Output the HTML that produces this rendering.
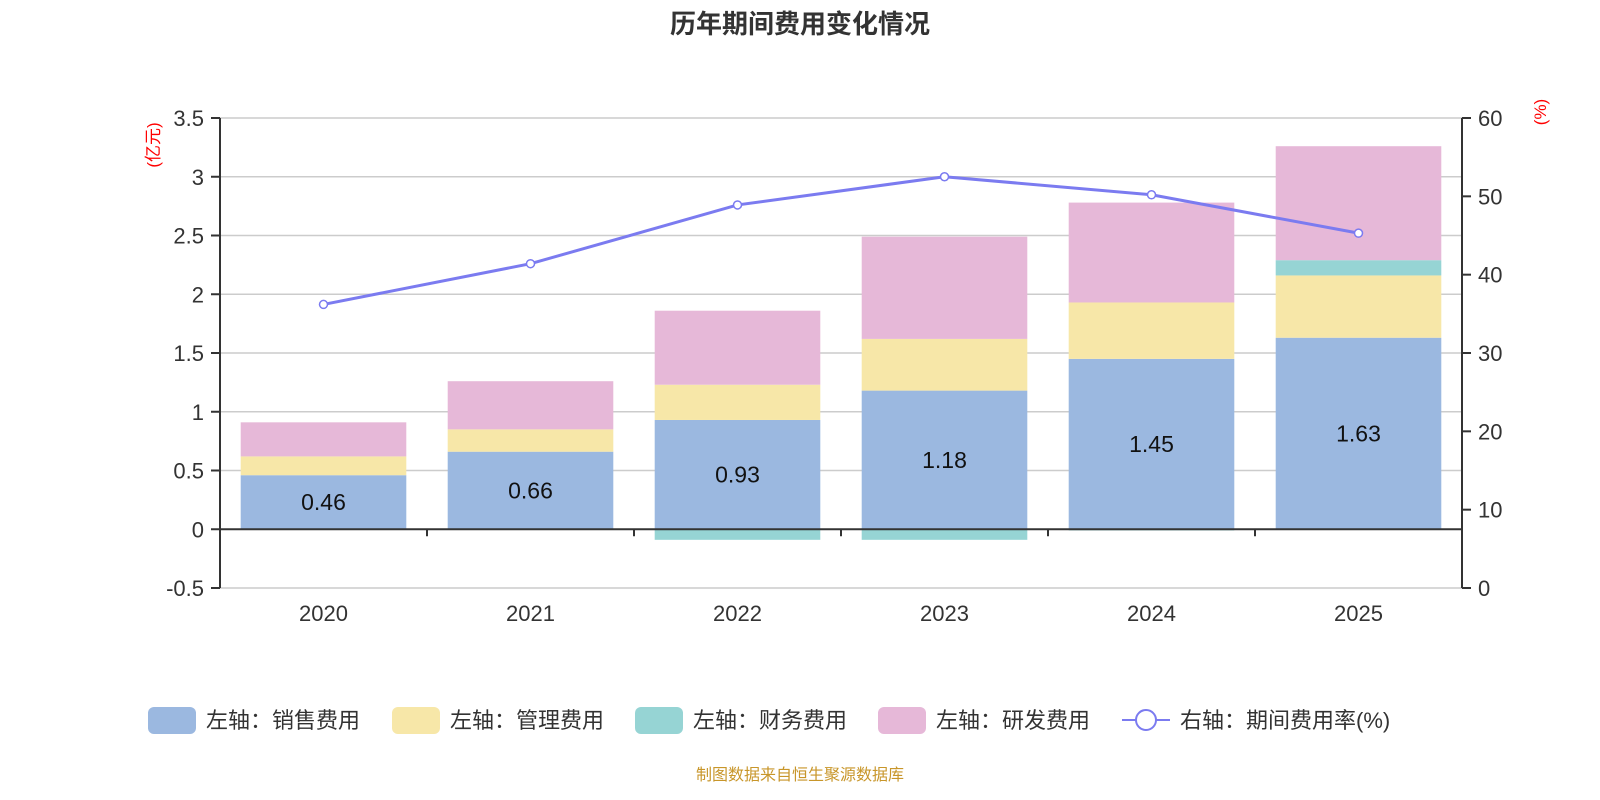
<!DOCTYPE html>
<html><head><meta charset="utf-8"><style>
html,body{margin:0;padding:0;background:#fff;}
svg{display:block;font-family:"Liberation Sans","Noto Sans CJK SC",sans-serif;}
</style></head><body>
<svg id="chart" width="1600" height="800" xmlns="http://www.w3.org/2000/svg">
<text x="800" y="33" text-anchor="middle" font-size="26" font-weight="bold" fill="#333">历年期间费用变化情况</text>
<g id="grid"></g><g id="bars"></g><g id="axes"></g><g id="line"></g><g id="labels"></g>
<text transform="translate(159,145) rotate(-90)" text-anchor="middle" font-size="17" fill="#f00">(亿元)</text>
<text transform="translate(1546,112) rotate(-90)" text-anchor="middle" font-size="17" fill="#f00">(%)</text>
<g id="legend"></g>
<text x="800" y="780" text-anchor="middle" font-size="16" fill="#c8962a">制图数据来自恒生聚源数据库</text>
</svg>
<script>
const categories=['2020','2021','2022','2023','2024','2025'];
const sales=[0.46,0.66,0.93,1.18,1.45,1.63];
const mgmt=[0.16,0.19,0.30,0.44,0.48,0.53];
const finance=[0,0,-0.09,-0.09,-0.01,0.13];
const rnd=[0.29,0.41,0.63,0.87,0.85,0.97];
const rate=[36.2,41.4,48.9,52.5,50.2,45.3];
const leftTicks=[-0.5,0,0.5,1,1.5,2,2.5,3,3.5];
const rightTicks=[0,10,20,30,40,50,60];
const NS='http://www.w3.org/2000/svg';
const X0=220,X1=1462,YT=118,YB=588;
const band=(X1-X0)/categories.length;
const xc=i=>X0+band*(i+0.5);
const yl=v=>YB-(v+0.5)/4*(YB-YT);
const yr=v=>YB-v/60*(YB-YT);
function mk(p,tag,at){const e=document.createElementNS(NS,tag);for(const k in at)e.setAttribute(k,at[k]);document.getElementById(p).appendChild(e);return e;}
leftTicks.forEach(t=>{
 const g=mk('grid','line',{x1:X0,x2:X1,y1:yl(t),y2:yl(t),stroke:'#ccc','stroke-width':1.5});
 
 
 mk('axes','line',{x1:X0-9,x2:X0,y1:yl(t),y2:yl(t),stroke:'#333','stroke-width':2});
 const tx=mk('axes','text',{x:X0-16,y:yl(t)+8,'text-anchor':'end','font-size':22,fill:'#333'});
 tx.textContent=t;
 
 
});
rightTicks.forEach(t=>{
 mk('axes','line',{x1:X1,x2:X1+9,y1:yr(t),y2:yr(t),stroke:'#333','stroke-width':2});
 const tx=mk('axes','text',{x:X1+16,y:yr(t)+8,'font-size':22,fill:'#333'});
 tx.textContent=t;
 
 
});
mk('axes','line',{x1:X0,x2:X0,y1:YT,y2:YB,stroke:'#333','stroke-width':2});
mk('axes','line',{x1:X1,x2:X1,y1:YT,y2:YB,stroke:'#333','stroke-width':2});
mk('axes','line',{x1:X0,x2:X1,y1:yl(0),y2:yl(0),stroke:'#333','stroke-width':2});
for(let i=1;i<categories.length;i++)mk('axes','line',{x1:X0+band*i,x2:X0+band*i,y1:yl(0),y2:yl(0)+7,stroke:'#333','stroke-width':2});
const series=[[sales,'#9bb8e0','bar-sales'],[mgmt,'#f7e7a8','bar-mgmt'],[finance,'#96d4d4','bar-finance'],[rnd,'#e6b8d8','bar-rnd']];
const bw=band*0.8;
categories.forEach((c,i)=>{
 let pos=0,neg=0;
 series.forEach(([arr,col,nm])=>{
  const v=arr[i];let a,b;
  if(v>=0){a=pos;b=pos+v;pos=b;}else{a=neg;b=neg+v;neg=b;}
  const r=mk('bars','rect',{x:xc(i)-bw/2,width:bw,y:Math.min(yl(a),yl(b)),height:Math.abs(yl(a)-yl(b)),fill:col});
  
  
 });
 const lb=mk('labels','text',{x:xc(i),y:yl(sales[i]/2)+8,'text-anchor':'middle','font-size':23,fill:'#111'});
 lb.textContent=sales[i].toFixed(2);
 
 
 const cl=mk('labels','text',{x:xc(i),y:621,'text-anchor':'middle','font-size':22,fill:'#333'});
 cl.textContent=c;
 
 
});
const pl=mk('line','polyline',{points:rate.map((v,i)=>xc(i)+','+yr(v)).join(' '),fill:'none',stroke:'#7b7bf0','stroke-width':3});


rate.forEach((v,i)=>{
 const p=mk('line','circle',{cx:xc(i),cy:yr(v),r:4,fill:'#fff',stroke:'#7b7bf0','stroke-width':1.5});
 
 
});
const leg=[['左轴：销售费用','#9bb8e0',148],['左轴：管理费用','#f7e7a8',392],['左轴：财务费用','#96d4d4',635],['左轴：研发费用','#e6b8d8',878]];
leg.forEach(([t,c,x])=>{
 const r=mk('legend','rect',{x:x,y:707,width:48,height:27,rx:6,fill:c});
 
 
 const tx=mk('legend','text',{x:x+58,y:728,'font-size':22,fill:'#333'});
 tx.textContent=t;
 
 
});
mk('legend','line',{x1:1122,x2:1170,y1:720,y2:720,stroke:'#7b7bf0','stroke-width':2});
const lc=mk('legend','circle',{cx:1146,cy:720,r:10,fill:'#fff',stroke:'#7b7bf0','stroke-width':2});


const lt=mk('legend','text',{x:1180,y:728,'font-size':22,fill:'#333'});
lt.textContent='右轴：期间费用率(%)';


</script>
</body></html>
